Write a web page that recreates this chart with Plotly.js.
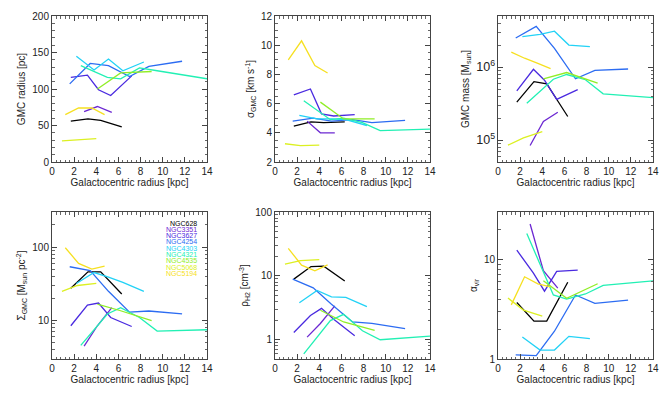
<!DOCTYPE html>
<html>
<head>
<meta charset="utf-8">
<script src="https://cdn.plot.ly/plotly-3.0.1.min.js"></script>
<style>
  body { margin: 0; background: #fff; }
  #chart { width: 668px; height: 393px; }
</style>
</head>
<body>
<div id="chart"></div>
<script>
// galaxies, in legend order
var galaxies = ['NGC628', 'NGC3351', 'NGC3627', 'NGC4254', 'NGC4303', 'NGC4321', 'NGC4535', 'NGC5068', 'NGC5194'];
var colors = ['#000000', '#6c28d2', '#4a2ae0', '#2c6cf2', '#22d2f6', '#22f0b4', '#90ee26', '#dcf022', '#f6e020'];

// galactocentric radius of each bin [kpc]
var radius = [
  [1.7, 3.25, 4.4, 6.3],
  [2.9, 4.1, 5.4],
  [1.7, 3.2, 4.2, 5.3, 7.2],
  [1.6, 3.45, 5.1, 7.0, 8.75, 11.75],
  [2.2, 3.8, 5.1, 6.4, 8.3],
  [2.6, 5.0, 6.2, 7.9, 9.5, 14.0],
  [4.1, 6.2, 9.0],
  [0.9, 2.3, 4.0],
  [1.2, 2.4, 3.6, 4.75]
];

// GMC radius [pc]
var gmcRadius = [
  [56, 59, 57, 48],
  [69, 76, 68],
  [116, 119, 99, 91, 118],
  [107, 135, 132, 117, 131, 138],
  [145, 126, 141, 125, 137],
  [132, 116, 114, 129, 125, 114],
  [100, 122, 124],
  [29, 30, 32],
  [65, 74, 74, 65]
];

// velocity dispersion [km/s]
var sigma = [
  [4.45, 4.75, 4.7, 4.75],
  [4.8, 4.0, 4.0],
  [6.6, 7.0, 5.3, 5.15, 5.25],
  [4.8, 5.0, 4.8, 4.9, 4.7, 4.85],
  [5.2, 4.95, 4.95, 4.9, 4.5],
  [6.2, 4.9, 5.0, 4.7, 4.15, 4.25],
  [6.1, 4.95, 4.95],
  [3.25, 3.12, 3.15],
  [9.0, 10.3, 8.6, 8.1]
];

// GMC mass [Msun]
var mass = [
  [3.3e5, 6.3e5, 5.9e5, 2.1e5],
  [8.4e4, 1.8e5, 2.4e5],
  [4.7e5, 9.3e5, 6.6e5, 3.6e5, 4.9e5],
  [2.5e6, 3.6e6, 1.8e6, 6.9e5, 9.0e5, 9.4e5],
  [2.6e6, 2.8e6, 3.1e6, 2.0e6, 1.9e6],
  [3.2e5, 6.8e5, 7.9e5, 6.7e5, 4.3e5, 3.8e5],
  [6.9e5, 8.4e5, 6.0e5],
  [8.5e4, 1.07e5, 1.3e5],
  [1.6e6, 1.32e6, 1.12e6, 9.5e5]
];

// surface density [Msun/pc^2]
var surfDens = [
  [27.5, 46, 46, 23],
  [4.5, 8.5, 15],
  [8.5, 16.2, 17.3, 11, 8.3],
  [54, 48, 25, 13, 13.5, 12.3],
  [32, 45, 39, 33, 25],
  [4.6, 12.3, 15, 11, 7.2, 7.5],
  [16.8, 13.6, 10],
  [25, 30, 32],
  [98, 60, 50, 55]
];

// H2 volume density [cm^-3]
var rhoH2 = [
  [8.9, 14, 14.2, 8.3],
  [1.1, 1.8, 3.4],
  [1.3, 2.4, 3.1, 2.1, 1.16],
  [8.9, 6.5, 3.6, 1.9, 1.8, 1.5],
  [3.8, 5.9, 4.7, 4.6, 3.3],
  [0.6, 2.0, 2.5, 1.38, 1.0, 1.14],
  [2.9, 1.9, 1.4],
  [15.3, 17.3, 18],
  [27, 14.7, 12, 14.9]
];

// virial parameter
var alphaVir = [
  [3.7, 2.4, 2.4, 5.9],
  [22.7, 7.7, 5.15],
  [12.4, 7.3, 4.8, 7.6, 7.8],
  [1.1, 1.08, 1.9, 4.4, 3.63, 3.9],
  [1.66, 1.23, 1.23, 1.69, 1.6],
  [18.2, 4.4, 4.0, 4.5, 5.5, 6.1],
  [6.1, 4.07, 5.7],
  [4.1, 3.1, 2.7],
  [3.5, 6.7, 5.7, 5.3]
];

var quantities = [gmcRadius, sigma, mass, surfDens, rhoH2, alphaVir];

var data = [];
for (var p = 0; p < quantities.length; p++) {
  for (var g = 0; g < galaxies.length; g++) {
    data.push({
      x: radius[g],
      y: quantities[p][g],
      type: 'scatter',
      mode: 'lines',
      name: galaxies[g],
      line: { color: colors[g], width: 1.3 },
      xaxis: 'x' + (p === 0 ? '' : p + 1),
      yaxis: 'y' + (p === 0 ? '' : p + 1),
      showlegend: false,
      hoverinfo: 'skip'
    });
  }
}

var W = 668, H = 393;
var font = { family: 'Liberation Sans, Arial, sans-serif', size: 10, color: '#222' };
var colX = [[52, 207], [275, 430], [498, 653]];
var rowY = [[16, 162], [212, 359]];

function xAxis(col, row) {
  return {
    domain: [colX[col][0] / W, colX[col][1] / W],
    anchor: 'y' + (row * 3 + col === 0 ? '' : row * 3 + col + 1),
    range: [0, 14],
    dtick: 2,
    ticks: 'inside', ticklen: 5, tickcolor: '#444', tickwidth: 1,
    minor: { ticks: 'inside', ticklen: 2.5, dtick: 0.4, tickcolor: '#666' },
    showline: true, linecolor: '#444', linewidth: 1, mirror: 'allticks',
    showgrid: false, zeroline: false,
    tickfont: font,
    title: { text: 'Galactocentric radius [kpc]', font: font, standoff: 2 }
  };
}

function yAxis(col, row, opts) {
  var ax = {
    domain: [1 - rowY[row][1] / H, 1 - rowY[row][0] / H],
    anchor: 'x' + (row * 3 + col === 0 ? '' : row * 3 + col + 1),
    ticks: 'inside', ticklen: 5, tickcolor: '#444', tickwidth: 1,
    showline: true, linecolor: '#444', linewidth: 1, mirror: 'allticks',
    showgrid: false, zeroline: false,
    tickfont: font
  };
  for (var k in opts) ax[k] = opts[k];
  return ax;
}

var logMinor = { ticks: 'inside', ticklen: 2.5, tickcolor: '#666', dtick: 'D1', showgrid: false };

var layout = {
  width: W, height: H,
  margin: { l: 0, r: 0, t: 0, b: 0 },
  paper_bgcolor: '#fff', plot_bgcolor: '#fff',
  font: font,
  showlegend: false,
  xaxis: xAxis(0, 0), xaxis2: xAxis(1, 0), xaxis3: xAxis(2, 0),
  xaxis4: xAxis(0, 1), xaxis5: xAxis(1, 1), xaxis6: xAxis(2, 1),
  yaxis: yAxis(0, 0, {
    range: [0, 200], dtick: 50,
    minor: { ticks: 'inside', ticklen: 2.5, dtick: 10, tickcolor: '#666' },
    title: { text: 'GMC radius [pc]', font: font, standoff: 4 }
  }),
  yaxis2: yAxis(1, 0, {
    range: [2, 12], dtick: 2,
    minor: { ticks: 'inside', ticklen: 2.5, dtick: 0.5, tickcolor: '#666' },
    title: { text: 'σ<sub>GMC</sub> [km s<sup>-1</sup>]', font: font, standoff: 4 }
  }),
  yaxis3: yAxis(2, 0, {
    type: 'log', range: [Math.log10(5e4), Math.log10(5e6)], dtick: 1,
    exponentformat: 'power', minor: logMinor,
    title: { text: 'GMC mass [M<sub>sun</sub>]', font: font, standoff: 4 }
  }),
  yaxis4: yAxis(0, 1, {
    type: 'log', range: [Math.log10(3), Math.log10(300)], dtick: 1,
    minor: logMinor,
    title: { text: 'Σ<sub>GMC</sub> [M<sub>sun</sub> pc<sup>-2</sup>]', font: font, standoff: 4 }
  }),
  yaxis5: yAxis(1, 1, {
    type: 'log', range: [Math.log10(0.5), 2], dtick: 1,
    minor: logMinor,
    title: { text: 'ρ<sub>H2</sub> [cm<sup>-3</sup>]', font: font, standoff: 4 }
  }),
  yaxis6: yAxis(2, 1, {
    type: 'log', range: [0, Math.log10(30)], dtick: 1,
    minor: logMinor,
    title: { text: 'α<sub>vir</sub>', font: font, standoff: 4 }
  }),
  annotations: []
};

// legend as coloured labels inside the Sigma panel
for (var g = 0; g < galaxies.length; g++) {
  layout.annotations.push({
    xref: 'paper', yref: 'paper',
    x: 199 / W, y: 1 - (223 + g * 6.3) / H,
    xanchor: 'right', yanchor: 'middle',
    text: galaxies[g],
    showarrow: false,
    font: { family: 'Liberation Sans, Arial, sans-serif', size: 7, color: colors[g] }
  });
}

Plotly.newPlot('chart', data, layout, { staticPlot: true });
</script>
</body>
</html>
